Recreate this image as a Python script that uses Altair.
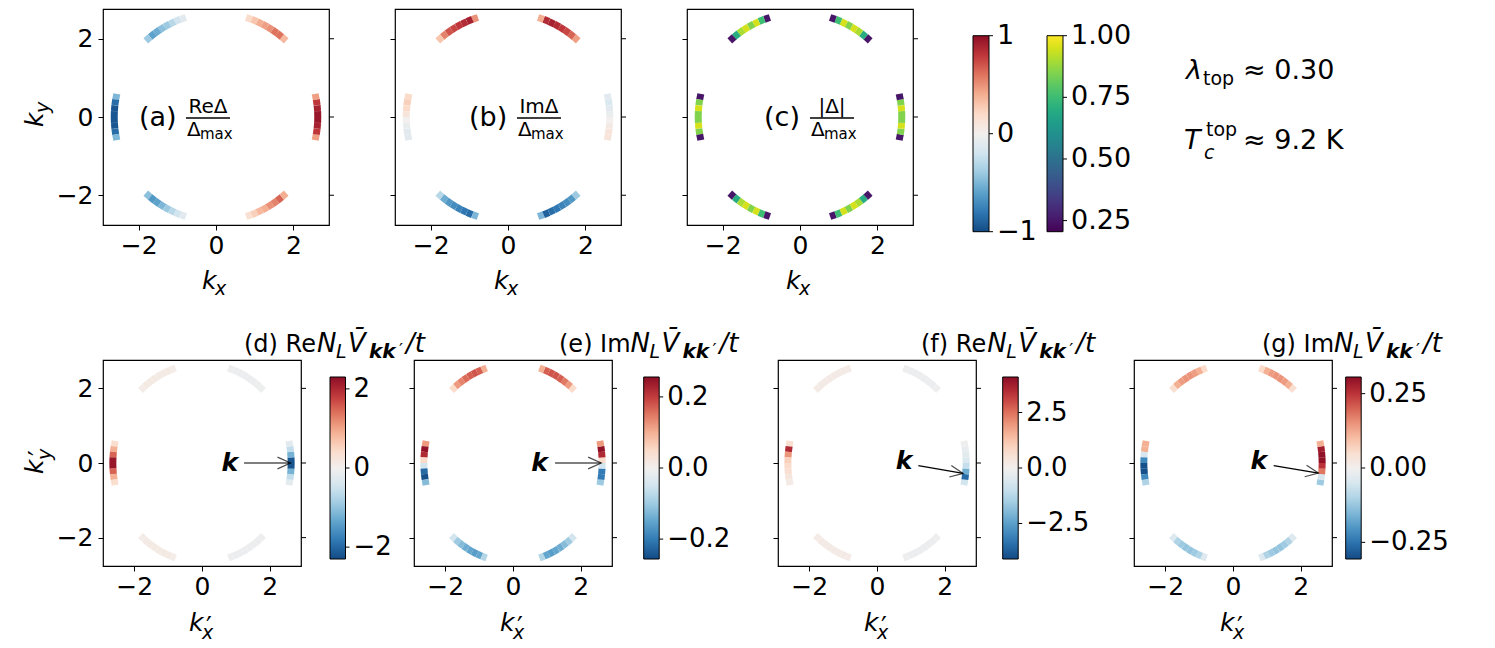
import altair as alt
import numpy as np
import pandas as pd

FONT = "DejaVu Sans"

# ---------------- data ----------------
arc_centers = [0, 60, 120, 180, 240, 300]          # degrees, centre of each Fermi-surface arc
seg_edges = [-13, -9.75, -6.5, -3.25, 0, 3.25, 6.5, 9.75, 13]  # angular offsets of the segment edges
arc_radius = [2.63, 2.66, 2.66, 2.63, 2.66, 2.66]
axis_ticks = [-2, 0, 2]

# values along each arc (8 segments, counter-clockwise), one list per arc centre
re_delta = [
    [0.45, 0.8, 0.9, 0.95, 0.95, 0.9, 0.8, 0.45],
    [0.35, 0.6, 0.6, 0.5, 0.45, 0.4, 0.3, 0.2],
    [-0.1, -0.2, -0.3, -0.4, -0.45, -0.55, -0.6, -0.4],
    [-0.5, -0.85, -0.95, -0.95, -0.95, -0.95, -0.85, -0.5],
    [-0.45, -0.65, -0.6, -0.5, -0.4, -0.3, -0.2, -0.1],
    [0.15, 0.25, 0.35, 0.4, 0.5, 0.55, 0.65, 0.4],
]
im_delta = [
    [0.1, 0.1, 0.05, 0.0, -0.05, -0.1, -0.15, -0.1],
    [0.45, 0.65, 0.75, 0.8, 0.85, 0.9, 0.85, 0.4],
    [0.5, 0.9, 0.85, 0.8, 0.75, 0.7, 0.55, 0.3],
    [0.2, 0.25, 0.2, 0.1, 0.0, -0.05, -0.1, -0.1],
    [-0.3, -0.55, -0.65, -0.7, -0.75, -0.8, -0.85, -0.5],
    [-0.5, -0.9, -0.85, -0.8, -0.75, -0.7, -0.65, -0.4],
]
abs_delta = [
    [0.25, 0.85, 0.95, 0.85, 0.85, 0.95, 0.85, 0.25],
    [0.25, 0.7, 0.9, 0.95, 0.85, 0.95, 0.75, 0.25],
    [0.25, 0.75, 0.95, 0.85, 0.95, 0.9, 0.7, 0.25],
    [0.25, 0.85, 0.95, 0.85, 0.85, 0.95, 0.85, 0.25],
    [0.25, 0.7, 0.9, 0.95, 0.85, 0.95, 0.75, 0.25],
    [0.25, 0.75, 0.95, 0.85, 0.95, 0.9, 0.7, 0.25],
]
re_v_d = [
    [-0.2, -0.6, -1.2, -2.2, -2.2, -1.2, -0.6, -0.2],
    [-0.05, -0.1, -0.1, -0.1, -0.1, -0.1, -0.1, -0.05],
    [0.08, 0.12, 0.12, 0.12, 0.12, 0.12, 0.12, 0.08],
    [0.4, 0.9, 1.5, 2.2, 2.2, 1.5, 0.9, 0.4],
    [0.08, 0.12, 0.12, 0.12, 0.12, 0.12, 0.12, 0.08],
    [-0.05, -0.1, -0.1, -0.1, -0.1, -0.1, -0.1, -0.05],
]
im_v_e = [
    [-0.1, -0.2, -0.2, -0.05, 0.05, 0.22, 0.25, 0.12],
    [0.05, 0.12, 0.15, 0.17, 0.18, 0.18, 0.17, 0.1],
    [0.1, 0.17, 0.18, 0.17, 0.16, 0.14, 0.12, 0.05],
    [0.12, 0.25, 0.22, 0.05, -0.05, -0.22, -0.25, -0.12],
    [-0.05, -0.1, -0.12, -0.14, -0.15, -0.16, -0.15, -0.08],
    [-0.08, -0.15, -0.16, -0.15, -0.14, -0.12, -0.1, -0.05],
]
re_v_f = [
    [-0.8, -3.5, -2.2, -1.0, -0.6, -0.4, -0.25, -0.1],
    [-0.1, -0.15, -0.15, -0.15, -0.15, -0.15, -0.15, -0.1],
    [0.15, 0.2, 0.2, 0.2, 0.2, 0.2, 0.2, 0.15],
    [0.6, 3.5, 2.0, 1.0, 0.8, 0.6, 0.4, 0.2],
    [0.15, 0.2, 0.2, 0.2, 0.2, 0.2, 0.2, 0.15],
    [-0.1, -0.15, -0.15, -0.15, -0.15, -0.15, -0.15, -0.1],
]
im_v_g = [
    [-0.12, -0.05, 0.18, 0.25, 0.3, 0.3, 0.28, 0.12],
    [0.05, 0.12, 0.14, 0.15, 0.15, 0.14, 0.12, 0.06],
    [0.06, 0.12, 0.14, 0.15, 0.15, 0.14, 0.12, 0.05],
    [0.12, 0.12, -0.05, -0.22, -0.3, -0.3, -0.22, -0.1],
    [-0.04, -0.1, -0.12, -0.13, -0.13, -0.12, -0.1, -0.04],
    [-0.04, -0.1, -0.12, -0.13, -0.13, -0.12, -0.1, -0.04],
]

# colour ranges and colour-bar tick labels
range_top = [-1, 1]
range_abs = [0.205, 1.0]
range_d, range_e, range_f, range_g = [-2.3, 2.3], [-0.256, 0.256], [-4.1, 4.1], [-0.306, 0.306]
cb_top, cb_abs = [-1, 0, 1], [0.25, 0.5, 0.75, 1.0]
cb_d, cb_e, cb_f, cb_g = [-2, 0, 2], [-0.2, 0, 0.2], [-2.5, 0, 2.5], [-0.25, 0, 0.25]

# arrow annotations (tail, tip in k-space) for panels d-g
arrow_tail = {"d": (1.24, 0.0), "e": (1.24, 0.0), "f": (1.22, -0.07), "g": (1.2, -0.07)}
arrow_tip = {"d": (2.61, 0.0), "e": (2.6, 0.0), "f": (2.54, -0.28), "g": (2.52, -0.27)}
arrow_label = {"d": (0.82, 0.0), "e": (0.78, 0.0), "f": (0.8, 0.05), "g": (0.76, 0.05)}

XD = [-2.92, 2.92]
YD = [-2.76, 2.76]


def arc_frame(vals):
    rows = []
    for c, r, seg_vals in zip(arc_centers, arc_radius, vals):
        for i, v in enumerate(seg_vals):
            a0 = np.radians(c + seg_edges[i])
            a1 = np.radians(c + seg_edges[i + 1])
            rows.append(dict(x=r * np.cos(a0), y=r * np.sin(a0),
                             x2=r * np.cos(a1), y2=r * np.sin(a1), v=v))
    return pd.DataFrame(rows)


DUMMY = pd.DataFrame({"a": [0]})


def txt(s, x, y, size=27, style="normal", weight="normal", align="left",
        baseline="alphabetic", angle=0):
    kw = dict(text=s, font=FONT, fontSize=size, fontStyle=style, fontWeight=weight,
              align=align, baseline=baseline, color="black")
    if angle:
        kw["angle"] = angle
    return alt.Chart(DUMMY).mark_text(**kw).encode(x=alt.value(x), y=alt.value(y))


def hline(x1, x2, y, w=1.3, opacity=1.0):
    return alt.Chart(DUMMY).mark_rule(color="black", strokeWidth=w, opacity=opacity).encode(
        x=alt.value(x1), x2=alt.value(x2), y=alt.value(y))


def anchor(x, y):
    # invisible 1px rule that fixes the outer extent of a row
    return hline(x, x + 1, y, w=1, opacity=0)


def legend(lx, ly, length, thick):
    return alt.Legend(orient="none", legendX=lx, legendY=ly, direction="vertical",
                      gradientLength=length, gradientThickness=thick,
                      gradientStrokeColor="black", gradientStrokeWidth=1,
                      values=[], labelOpacity=0, padding=0, title=None)


def fmt_num(v, fmt):
    return format(v, fmt).replace("-", "\u2212")


def cbar_marks(values, fmt, dom, lx, ly, length, thick, size):
    out = []
    for v in values:
        yy = ly + length * (dom[1] - v) / (dom[1] - dom[0])
        out.append(hline(lx + thick, lx + thick + 4, yy, w=1))
        out.append(txt(fmt_num(v, fmt), lx + thick + 8, yy, size, baseline="middle"))
    return out


def base_layers(vals, cscale, w, ylabels, leg, tick_size):
    xs = alt.Scale(domain=XD, nice=False, zero=False)
    ys = alt.Scale(domain=YD, nice=False, zero=False)
    xax = alt.Axis(values=axis_ticks, title=None, grid=False, domain=False, tickSize=5,
                   tickColor="black", labelFontSize=tick_size, labelColor="black",
                   labelFont=FONT, labelPadding=3, format="d", labelFlush=False)
    yax = alt.Axis(values=axis_ticks, title=None, grid=False, domain=False, tickSize=5,
                   tickColor="black", labels=ylabels, labelFontSize=tick_size,
                   labelColor="black", labelFont=FONT, labelPadding=5, format="d",
                   labelFlush=False)
    X = alt.X("x:Q", scale=xs, axis=xax)
    Y = alt.Y("y:Q", scale=ys, axis=yax)
    arcs = alt.Chart(arc_frame(vals)).mark_rule(strokeWidth=7, strokeCap="butt").encode(
        x=X, y=Y, x2="x2:Q", y2="y2:Q",
        color=alt.Color("v:Q", scale=cscale, legend=leg))
    rticks = alt.Chart(pd.DataFrame({"y": axis_ticks})).mark_rule(
        color="black", strokeWidth=1).encode(y=Y, x=alt.value(w), x2=alt.value(w + 5))
    return [arcs, rticks], X, Y


def rdbu(dom):
    return alt.Scale(scheme="redblue", reverse=True, domain=dom, nice=False, zero=False)


# ---------------- top row ----------------
TW, TH = 226, 216
TLY, TLEN, TTH = 26.7, 196, 16


def top_label(letter, numer, lx, fx, fw):
    parts = [txt(f"({letter})", lx, 117, 27)]
    parts.append(txt(numer, fx + fw / 2, 104, 20, align="center"))
    parts.append(hline(fx, fx + fw, 109))
    parts.append(txt("\u0394", fx + 1, 127, 20))
    parts.append(txt("max", fx + 14, 130, 15))
    return parts


def kx_label(x0, yb, prime=False):
    p = [txt("k", x0, yb, 25, style="italic")]
    if prime:
        p.append(txt("\u2032", x0 + 17, yb + 5, 26))
        p.append(txt("x", x0 + 13, yb + 8, 19, style="italic"))
    else:
        p.append(txt("x", x0 + 13, yb + 6, 19, style="italic"))
    return p


la, Xa, Ya = base_layers(re_delta, rdbu(range_top), TW, True, None, 25)
pa = alt.layer(*la,
               *top_label("a", "Re\u0394", 36, 83, 44),
               *kx_label(99, 280),
               txt("k", -60, 118, 25, style="italic", angle=270),
               txt("y", -54, 104, 19, style="italic", angle=270),
               anchor(-94, 300),
               ).properties(width=TW, height=TH)

lb, _, _ = base_layers(im_delta, rdbu(range_top), TW, False, legend(578, TLY, TLEN, TTH), 25)
pb = alt.layer(*lb, *top_label("b", "Im\u0394", 74, 122, 44),
               *kx_label(99, 280),
               *cbar_marks(cb_top, "d", range_top, 578, TLY, TLEN, TTH, 27),
               ).properties(width=TW, height=TH)

vir = alt.Scale(scheme="viridis", domain=range_abs, nice=False, zero=False)
lc, _, _ = base_layers(abs_delta, vir, TW, False, legend(360, TLY, TLEN, TTH), 25)
pc = alt.layer(*lc, *top_label("c", "|\u0394|", 77, 123, 44),
               *kx_label(99, 280),
               *cbar_marks(cb_abs, ".2f", range_abs, 360, TLY, TLEN, TTH, 27),
               txt("\u03bb", 499, 70, 27, style="italic"),
               txt("top", 516, 76, 19),
               txt("\u2248 0.30", 556, 70, 27),
               txt("T", 497, 140, 27, style="italic"),
               txt("top", 519, 127, 19),
               txt("c", 517, 150, 19, style="italic"),
               txt("\u2248 9.2 K", 556, 140, 27),
               ).properties(width=TW, height=TH)

top_row = alt.hconcat(pa, pb, pc, spacing=66, bounds="flush").resolve_scale(color="independent")

# ---------------- bottom row ----------------
BW, BH = 198, 206
BLY, BLEN, BTH = 17, 182, 15.5
LETTER_EM = {"d": 0.635, "e": 0.615, "f": 0.352, "g": 0.635}
PART_EM = {"Re": 1.31, "Im": 1.269}


def title_pieces(letter, part):
    x0 = {"d": 141, "e": 145, "f": 143, "g": 128}[letter]
    yb = -8
    s = 24
    w0 = (1.098 + LETTER_EM[letter] + PART_EM[part]) * s
    n0 = x0 + w0
    return [
        txt(f"({letter}) {part}", x0, yb, s),
        txt("N", n0, yb, 26, style="italic"),
        txt("L", n0 + 19, yb + 6, 19, style="italic"),
        txt("V\u0304", n0 + 31, yb, 26, style="italic"),
        txt("kk", n0 + 52, yb + 6, 20, style="italic", weight="bold"),
        txt("\u2032", n0 + 82, yb + 4, 18),
        txt("/t", n0 + 89, yb, 26, style="italic"),
    ]


def arrow_layers(key, X, Y):
    (tx, ty), (hx, hy), (lx, ly) = arrow_tail[key], arrow_tip[key], arrow_label[key]
    shaft = alt.Chart(pd.DataFrame({"x": [tx], "y": [ty], "x2": [hx], "y2": [hy]})).mark_rule(
        color="black", strokeWidth=1.2).encode(x=X, y=Y, x2="x2:Q", y2="y2:Q")
    ang = float(np.degrees(np.arctan2(-(hy - ty) * 37.3, (hx - tx) * 33.9)))
    head_kw = dict(shape="M -1 -0.45 L 0 0 L -1 0.45", filled=False, stroke="black",
                   strokeWidth=1.2, size=676)
    if ang > 0:
        head_kw["angle"] = ang
    head = alt.Chart(pd.DataFrame({"x": [hx], "y": [hy]})).mark_point(**head_kw).encode(x=X, y=Y)
    lab = alt.Chart(pd.DataFrame({"x": [lx], "y": [ly]})).mark_text(
        text="k", font=FONT, fontSize=25, fontStyle="italic", fontWeight="bold",
        align="center", baseline="middle", color="black").encode(x=X, y=Y)
    return [shaft, head, lab]


def bottom_panel(key, vals, dom, cbv, fmt, lx, part, ylabels=False, extra=()):
    layers, X, Y = base_layers(vals, rdbu(dom), BW, ylabels, legend(lx, BLY, BLEN, BTH), 25)
    return alt.layer(*layers, *arrow_layers(key, X, Y), *title_pieces(key, part),
                     *kx_label(86, 271, prime=True),
                     *cbar_marks(cbv, fmt, dom, lx, BLY, BLEN, BTH, 26),
                     *extra).properties(width=BW, height=BH)


pd_ = bottom_panel("d", re_v_d, range_d, cb_d, "d", 227, "Re", True,
                   extra=(txt("k", -60, 114, 25, style="italic", angle=270),
                          txt("\u2032", -55, 96, 26, angle=270),
                          txt("y", -52, 100, 19, style="italic", angle=270),
                          anchor(-94, -40)))
pe = bottom_panel("e", im_v_e, range_e, cb_e, ".1f", 229.7, "Im")
pf = bottom_panel("f", re_v_f, range_f, cb_f, ".1f", 224.7, "Re")
pg = bottom_panel("g", im_v_g, range_g, cb_g, ".2f", 211.7, "Im")


def spacer(w):
    return alt.Chart(DUMMY).mark_rule(opacity=0).encode(
        x=alt.value(0), x2=alt.value(1), y=alt.value(0)).properties(
        width=w, height=BH, view=alt.ViewBackground(strokeOpacity=0))


bottom_row = alt.hconcat(pd_, spacer(113), pe, spacer(166), pf, spacer(157.5), pg,
                         spacing=0, bounds="flush").resolve_scale(color="independent")

chart = alt.vconcat(top_row, bottom_row, spacing=9).resolve_scale(
    color="independent").properties(padding=0).configure(font=FONT).configure_view(
    stroke="black", strokeWidth=1.2)

chart.save("out.html", embed_options={"renderer": "svg", "actions": False})
